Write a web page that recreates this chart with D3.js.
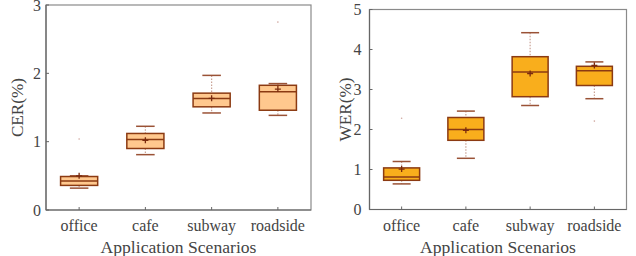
<!DOCTYPE html>
<html><head><meta charset="utf-8">
<script src="https://cdn.jsdelivr.net/npm/d3@7"></script>
<style>body{margin:0;background:#fff}svg{display:block}text{font-family:"Liberation Serif","Times New Roman",serif;fill:#444}</style>
</head><body>
<svg id="c" width="636" height="256"></svg>
<script>
const categories = ["office","cafe","subway","roadside"];
// CER (%)
const cerLow  = [0.32, 0.81, 1.42, 1.385];
const cerQ1   = [0.36, 0.90, 1.51, 1.46];
const cerMed  = [0.425,1.03, 1.63, 1.73];
const cerQ3   = [0.49, 1.12, 1.71, 1.825];
const cerHigh = [0.50, 1.225,1.97, 1.85];
const cerMean = [0.50, 1.02, 1.635,1.77];
const cerOutliers = [["office",1.04],["roadside",2.75]];
const cerTicks = [0,1,2,3];
// WER (%)
const werLow  = [0.64, 1.28, 2.60, 2.77];
const werQ1   = [0.73, 1.73, 2.82, 3.10];
const werMed  = [0.81, 2.00, 3.44, 3.47];
const werQ3   = [1.04, 2.30, 3.82, 3.58];
const werHigh = [1.20, 2.46, 4.42, 3.69];
const werMean = [1.01, 1.98, 3.40, 3.60];
const werOutliers = [["office",2.28],["roadside",2.21]];
const werTicks = [0,1,2,3,4,5];

const svg = d3.select("#c");

function panel(o){
  const g = svg.append("g");
  const x = d3.scaleBand().domain(categories).range([o.x0,o.x1]);
  const y = d3.scaleLinear().domain([0,o.ymax]).range([o.y0,o.y1]);
  const cx = c => x(c)+x.bandwidth()/2;
  const bw = x.bandwidth()*0.56, cw = x.bandwidth()*0.28;
  // frame
  g.append("rect").attr("x",o.x0).attr("y",o.y1).attr("width",o.x1-o.x0).attr("height",o.y0-o.y1)
    .attr("fill","none").attr("stroke","#8a8a8a").attr("stroke-width",1.2);
  g.append("line").attr("x1",o.x0).attr("x2",o.x1).attr("y1",o.y0).attr("y2",o.y0).attr("stroke","#666").attr("stroke-width",1.2);
  g.append("line").attr("x1",o.x0).attr("x2",o.x0).attr("y1",o.y0).attr("y2",o.y1).attr("stroke","#666").attr("stroke-width",1.2);
  // ticks
  o.ticks.forEach(t=>{
    g.append("line").attr("x1",o.x0).attr("x2",o.x0+3).attr("y1",y(t)).attr("y2",y(t)).attr("stroke","#666");
    g.append("text").attr("x",o.x0-o.tgap).attr("y",y(t)+5.5).attr("text-anchor","end").attr("font-size",16).text(t);
  });
  categories.forEach(c=>{
    g.append("line").attr("x1",cx(c)).attr("x2",cx(c)).attr("y1",o.y0).attr("y2",o.y0-3).attr("stroke","#666");
    g.append("text").attr("x",cx(c)).attr("y",231).attr("text-anchor","middle").attr("font-size",16).text(c);
  });
  g.append("text").attr("x",(o.x0+o.x1)/2).attr("y",252.5).attr("text-anchor","middle").attr("font-size",17.6).text("Application Scenarios");
  g.append("text").attr("transform",`translate(${o.ylx},${(o.y0+o.y1)/2}) rotate(-90)`).attr("dy","0.35em")
    .attr("text-anchor","middle").attr("font-size",17.2).text(o.ylabel);
  // boxes
  categories.forEach((c,i)=>{
    const X = cx(c);
    g.append("line").attr("x1",X).attr("x2",X).attr("y1",y(o.high[i])).attr("y2",y(o.q3[i]))
      .attr("stroke","#c9a295").attr("stroke-dasharray","1.5,1.5").attr("stroke-width",1.2);
    g.append("line").attr("x1",X).attr("x2",X).attr("y1",y(o.q1[i])).attr("y2",y(o.low[i]))
      .attr("stroke","#c9a295").attr("stroke-dasharray","1.5,1.5").attr("stroke-width",1.2);
    [o.high[i],o.low[i]].forEach(v=>g.append("line").attr("x1",X-cw/2).attr("x2",X+cw/2).attr("y1",y(v)).attr("y2",y(v))
      .attr("stroke","#9a5236").attr("stroke-width",1.5));
    g.append("rect").attr("x",X-bw/2).attr("y",y(o.q3[i])).attr("width",bw).attr("height",y(o.q1[i])-y(o.q3[i]))
      .attr("fill",o.fill).attr("stroke","#8b3a12").attr("stroke-width",1.5);
    g.append("line").attr("x1",X-bw/2).attr("x2",X+bw/2).attr("y1",y(o.med[i])).attr("y2",y(o.med[i]))
      .attr("stroke","#8b3a12").attr("stroke-width",1.5);
    const m = y(o.mean[i]);
    g.append("path").attr("d",`M${X-3},${m}H${X+3}M${X},${m-3}V${m+3}`).attr("stroke","#7a2a0e").attr("stroke-width",1.3);
  });
  o.outliers.forEach(([c,v])=>g.append("circle").attr("cx",cx(c)).attr("cy",y(v)).attr("r",0.8).attr("fill","#d0a8a0"));
}

panel({x0:46,x1:311,y0:210,y1:5,ymax:3,ticks:cerTicks,tgap:5,ylx:17,ylabel:"CER(%)",fill:"#ffc88e",
  low:cerLow,q1:cerQ1,med:cerMed,q3:cerQ3,high:cerHigh,mean:cerMean,outliers:cerOutliers});
panel({x0:369.5,x1:626.5,y0:209.5,y1:9.5,ymax:5,ticks:werTicks,tgap:8,ylx:345,ylabel:"WER(%)",fill:"#f9ae1c",
  low:werLow,q1:werQ1,med:werMed,q3:werQ3,high:werHigh,mean:werMean,outliers:werOutliers});
</script>
</body></html>
